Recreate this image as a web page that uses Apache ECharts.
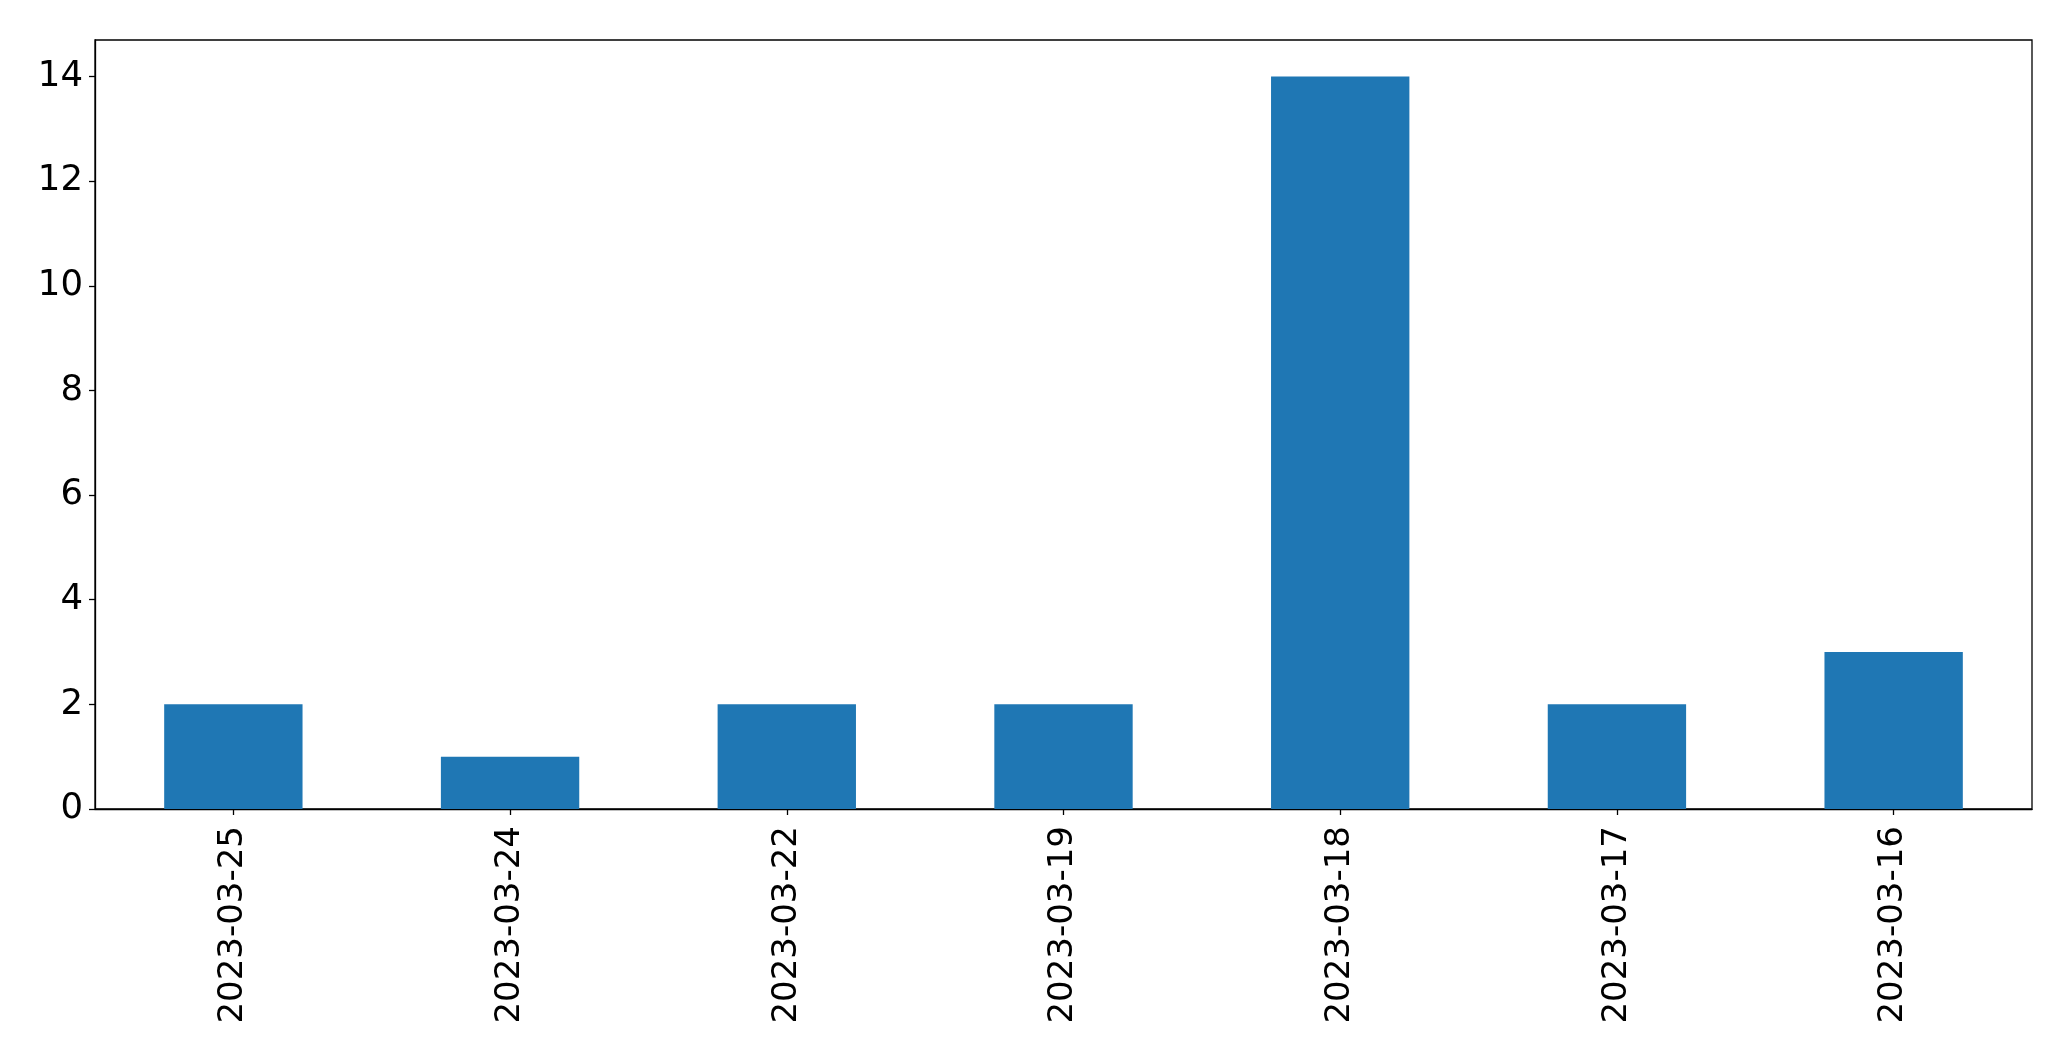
<!DOCTYPE html>
<html><head><meta charset="utf-8">
<script src="https://cdn.jsdelivr.net/npm/echarts@6/dist/echarts.min.js"></script>
<style>html,body{margin:0;padding:0;background:#fff}#c{width:2071px;height:1061px}</style>
</head><body><div id="c"></div>
<script>
const categories = ['2023-03-25','2023-03-24','2023-03-22','2023-03-19','2023-03-18','2023-03-17','2023-03-16'];
const values = [2, 1, 2, 2, 14, 2, 3];
const yTicks = [0, 2, 4, 6, 8, 10, 12, 14];

const chart = echarts.init(document.getElementById('c'));
const font = 'DejaVu Sans';
chart.setOption({
  animation: false,
  grid: {left: 95, right: 39, top: 40, bottom: 252, show: true, borderColor: '#000', borderWidth: 1.3, containLabel: false},
  xAxis: {
    type: 'category', data: categories,
    axisLine: {show: true, lineStyle: {color: '#000', width: 1.3}},
    axisTick: {show: true, alignWithLabel: true, length: 6, lineStyle: {color: '#000', width: 1.3}},
    axisLabel: {rotate: 90, color: '#000', fontFamily: font, fontSize: 34, margin: 17, interval: 0}
  },
  yAxis: {
    type: 'value', min: 0, max: 14.7, interval: 2,
    splitLine: {show: false},
    axisLine: {show: true, lineStyle: {color: '#000', width: 1.3}},
    axisTick: {show: true, length: 6, lineStyle: {color: '#000', width: 1.3}},
    axisLabel: {color: '#000', fontFamily: font, fontSize: 35.5, margin: 12,
      formatter: v => yTicks.includes(v) ? String(v) : '', showMaxLabel: false}
  },
  series: [{type: 'bar', data: values, barWidth: '50%', itemStyle: {color: '#1f77b4'}}]
});
</script></body></html>
